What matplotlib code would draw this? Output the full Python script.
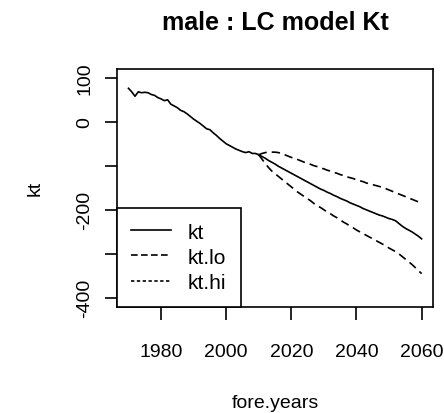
import matplotlib
matplotlib.use("Agg")
import matplotlib.pyplot as plt
from matplotlib.lines import Line2D

plt.rcParams['font.family'] = ['Liberation Sans', 'DejaVu Sans']

# Historical kt (1970-2010)
hist_years = list(range(1970, 2011))
hist_kt = [76, 68, 58, 68, 66, 67, 66, 62, 60, 55,
           52, 48, 50, 40, 36, 32, 26, 23, 18, 12,
           6, 1, -4, -10, -16, -18, -25, -31, -38, -44,
           -50, -54, -58, -62, -65, -68, -70, -68, -72, -72, -75]

# Forecast (2010-2060)
fore_years = list(range(2010, 2061))
fore_kt = [-75, -79, -83, -88, -92, -96, -101, -105, -109, -113,
           -117, -121, -125, -129, -133, -137, -141, -145, -149, -153,
           -156, -160, -163, -167, -170, -174, -177, -180, -184, -187,
           -190, -193, -197, -200, -203, -206, -209, -212, -214, -217,
           -220, -222, -225, -231, -237, -242, -246, -250, -255, -260, -266]
fore_lo = [-75, -72, -70, -69, -69, -69, -70, -72, -75, -78,
           -81, -83, -86, -89, -92, -94, -97, -100, -102, -105,
           -107, -110, -112, -115, -117, -120, -122, -125, -127, -129,
           -132, -134, -136, -139, -141, -143, -145, -147, -149, -152,
           -155, -158, -161, -164, -167, -170, -173, -176, -179, -182, -185]
fore_hi = [-75, -85, -95, -104, -112, -118, -124, -130, -136, -142,
           -148, -154, -160, -165, -170, -175, -180, -186, -191, -195,
           -200, -205, -209, -214, -218, -223, -228, -232, -237, -241,
           -246, -250, -254, -258, -262, -266, -270, -274, -278, -282,
           -287, -291, -295, -300, -306, -312, -318, -324, -331, -338, -345]

legend_labels = ["kt", "kt.lo", "kt.hi"]
xticks = [1980, 2000, 2020, 2040, 2060]
yticks = [100, 0, -100, -200, -300, -400]
ytick_labels = ["100", "0", "", "-200", "", "-400"]

fig = plt.figure(figsize=(4.44, 4.14), dpi=100)
ax = fig.add_axes([0.263, 0.257, 0.713, 0.574])

lw = 1.2
ax.plot(hist_years, hist_kt, color='black', lw=lw)
ax.plot(fore_years, fore_kt, color='black', lw=lw)
ax.plot(fore_years, fore_lo, color='black', lw=lw, linestyle=(0, (5, 3)))
ax.plot(fore_years, fore_hi, color='black', lw=lw, linestyle=(0, (5, 3)))

ax.set_xlim(1966.4, 2063.6)
ax.set_ylim(-420, 120)
ax.set_xticks(xticks)
ax.set_xticklabels([str(x) for x in xticks])
ax.set_yticks(yticks)
ax.set_yticklabels(ytick_labels, rotation=90, va='center')

ax.tick_params(axis='both', direction='out', length=9, width=1.2, labelsize=14, colors='black')
ax.tick_params(axis='x', pad=17.5)
ax.tick_params(axis='y', pad=8)
for s in ax.spines.values():
    s.set_linewidth(1.2)
    s.set_color('black')

ax.set_title("male : LC model Kt", fontsize=18, fontweight='bold', pad=29)
ax.set_xlabel("fore.years", fontsize=14, labelpad=24)
ax.set_ylabel("kt", fontsize=14, labelpad=23.5)

handles = [Line2D([], [], color='black', lw=lw),
           Line2D([], [], color='black', lw=lw, linestyle=(0, (4, 2))),
           Line2D([], [], color='black', lw=lw, linestyle=(0, (2, 1.5)))]
leg = ax.legend(handles, legend_labels, loc='lower left', bbox_to_anchor=(0, 0),
                borderaxespad=0, fontsize=15, handlelength=1.9, handletextpad=0.8,
                labelspacing=0.3, borderpad=0.7, fancybox=False, framealpha=1,
                edgecolor='black')
leg.get_frame().set_linewidth(1.2)

fig.savefig("out.png", dpi=100)
